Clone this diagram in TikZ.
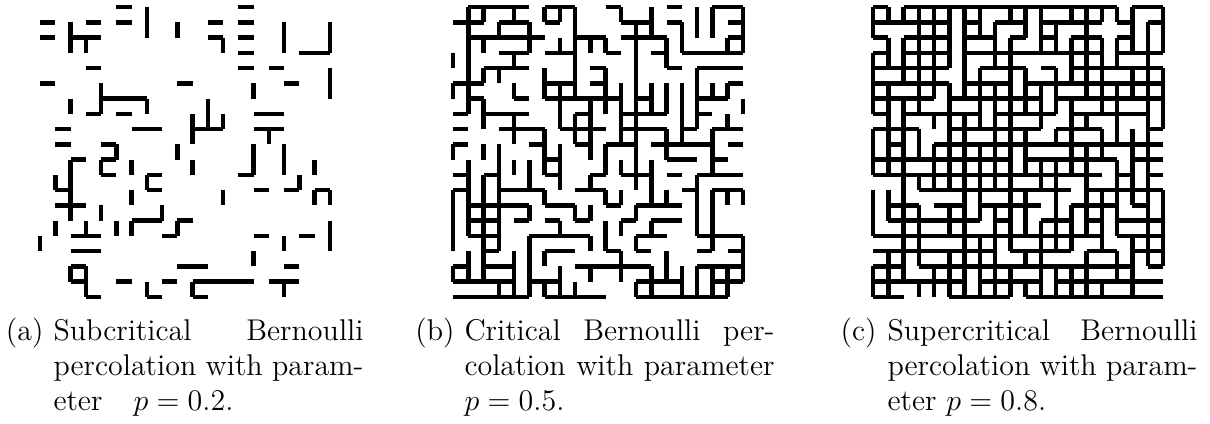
\documentclass[tikz,border=0pt]{standalone}
\begin{document}
\begin{tikzpicture}[x=0.4pt,y=-0.4pt,
  bond/.style={line width=1.8pt},
  capline/.style={anchor=base west,inner sep=0pt,font=\fontsize{12}{14}\selectfont},
  caplabel/.style={anchor=base east,inner sep=0pt,font=\fontsize{12}{14}\selectfont}]
\useasboundingbox (0,0) rectangle (1210,423);
% subcritical
\begin{scope}[shift={(40,7)},x=6.105pt,y=-6.105pt]
\foreach \i/\j in {5/0,13/0,0/1,3/1,5/1,11/1,13/1,0/2,2/2,3/2,11/2,13/2,13/3,17/3,18/3,
  3/4,13/4,15/4,0/5,9/5,16/5,4/6,5/6,6/6,3/7,5/7,14/7,15/7,1/8,6/8,7/8,10/8,11/8,
  14/8,15/8,1/9,4/9,2/10,4/10,4/11,7/11,13/11,1/12,7/12,14/12,16/12,18/12,1/13,2/13,
  6/14,7/14,9/14,2/15,3/15,8/15,14/15,17/15,2/16,3/16,2/17,9/17,10/17,16/17,2/18,
  5/18,8/18,10/18,11/18,12/18,13/18,15/18,16/18,3/19,7/19,10/19}
  \draw[bond] (\i,\j) -- ++(1,0);
\foreach \i/\j in {7/0,2/1,7/1,9/1,16/1,19/1,2/2,3/2,12/2,16/2,19/2,19/4,4/5,14/5,
  19/5,2/6,4/6,7/6,11/6,10/7,11/7,12/7,10/8,15/8,5/9,9/9,14/9,16/9,2/10,4/10,6/10,
  10/10,14/10,16/10,18/10,1/11,2/11,7/11,17/11,2/12,6/12,12/12,18/12,19/12,2/13,
  4/13,8/13,1/14,3/14,5/14,6/14,9/14,19/14,0/15,16/15,19/15,14/16,2/17,3/17,3/18,
  7/18,10/18,16/18}
  \draw[bond] (\i,\j) -- ++(0,1);
\end{scope}
% critical
\pgfmathsetseed{11}
\begin{scope}[shift={(453,7)},x=6.105pt,y=-6.105pt]
\foreach \j in {0,...,19}{\foreach \i in {0,...,18}{
  \pgfmathparse{rnd}
  \ifdim\pgfmathresult pt<0.5pt \draw[bond] (\i,\j) -- ++(1,0);\fi
  \pgfmathparse{rnd}
  \ifdim\pgfmathresult pt<0.5pt \draw[bond] (\j,\i) -- ++(0,1);\fi
}}
\end{scope}
% supercritical
\pgfmathsetseed{23}
\begin{scope}[shift={(873,7)},x=6.105pt,y=-6.105pt]
\foreach \j in {0,...,19}{\foreach \i in {0,...,18}{
  \pgfmathparse{rnd}
  \ifdim\pgfmathresult pt<0.8pt \draw[bond] (\i,\j) -- ++(1,0);\fi
  \pgfmathparse{rnd}
  \ifdim\pgfmathresult pt<0.8pt \draw[bond] (\j,\i) -- ++(0,1);\fi
}}
\end{scope}
% captions
\node[caplabel] (laba) at (44,340) {(a)};
\node[capline] (capa1) at (53,340) {\makebox[124pt][s]{Subcritical Bernoulli}};
\node[capline] (capa2) at (53,375) {\makebox[124pt][s]{percolation with param-}};
\node[capline] (capa3) at (53,410) {\makebox[32pt][l]{eter}$p=0.2$.};
\node[caplabel] (labb) at (455,340) {(b)};
\node[capline] (capb1) at (464,340) {\makebox[124pt][s]{Critical Bernoulli per-}};
\node[capline] (capb2) at (464,375) {\makebox[124pt][s]{colation with parameter}};
\node[capline] (capb3) at (464,410) {$p=0.5$.};
\node[caplabel] (labc) at (877,340) {(c)};
\node[capline] (capc1) at (887,340) {\makebox[124pt][s]{Supercritical Bernoulli}};
\node[capline] (capc2) at (887,375) {\makebox[124pt][s]{percolation with param-}};
\node[capline] (capc3) at (887,410) {eter $p=0.8$.};
\end{tikzpicture}
\end{document}
